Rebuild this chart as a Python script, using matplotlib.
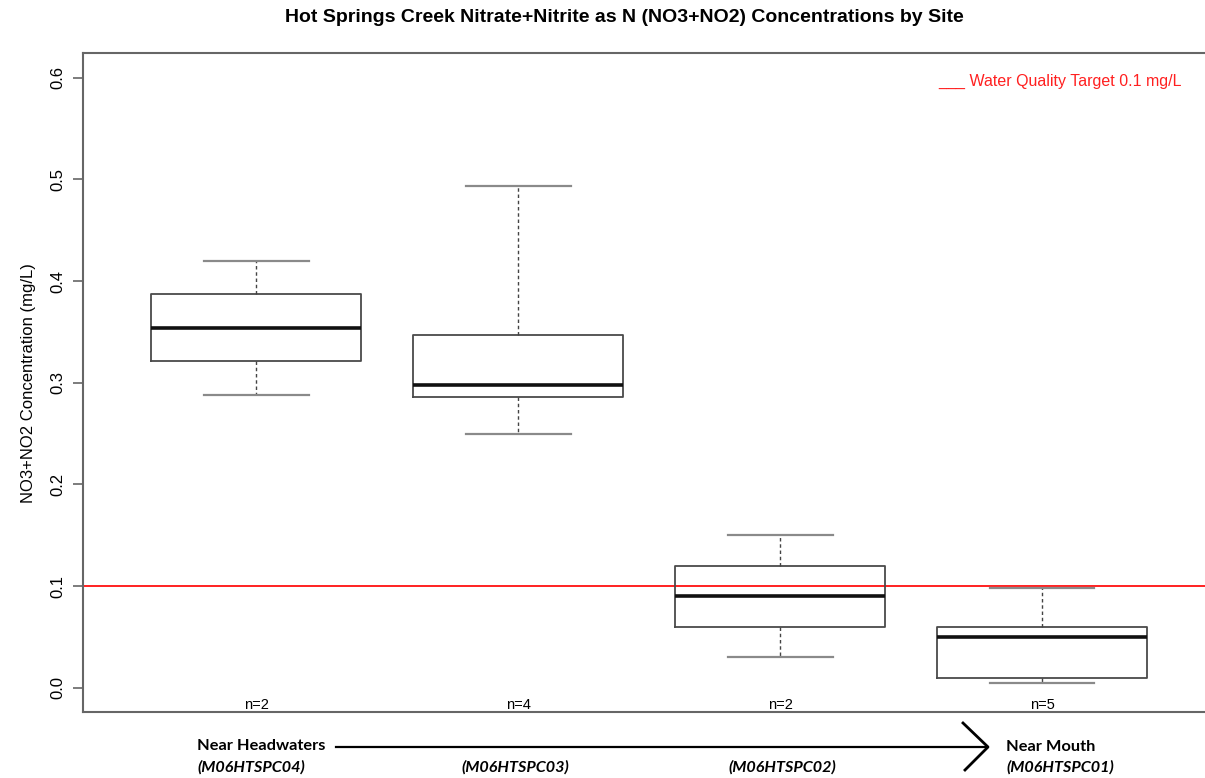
import matplotlib
matplotlib.use("Agg")
import matplotlib.pyplot as plt
from matplotlib.lines import Line2D

# data
sites = ["(M06HTSPC04)", "(M06HTSPC03)", "(M06HTSPC02)", "(M06HTSPC01)"]
n_obs = [2, 4, 2, 5]
whis_lo = [0.288, 0.250, 0.030, 0.005]
q1 = [0.321, 0.286, 0.060, 0.010]
med = [0.354, 0.298, 0.090, 0.050]
q3 = [0.387, 0.347, 0.120, 0.060]
whis_hi = [0.420, 0.494, 0.150, 0.098]
target = 0.1
yticks = [0.0, 0.1, 0.2, 0.3, 0.4, 0.5, 0.6]

W, H = 1205, 778
fig = plt.figure(figsize=(W / 100, H / 100), dpi=100)
plt.rcParams['font.family'] = ['Liberation Sans', 'DejaVu Sans']

def fx(px):
    return px / W

def fy(py):
    return 1 - py / H

ax = fig.add_axes([fx(83.3), fy(712.3), fx(1215) - fx(83.3), fy(53.3) - fy(712.3)])

stats = []
for i in range(len(sites)):
    stats.append(dict(whislo=whis_lo[i], q1=q1[i], med=med[i], q3=q3[i],
                      whishi=whis_hi[i], fliers=[]))
pos = list(range(1, len(sites) + 1))
ax.bxp(stats, positions=pos, widths=0.8, capwidths=0.4, showfliers=False,
       boxprops=dict(color="#4a4a4a", linewidth=1.3),
       medianprops=dict(color="#111111", linewidth=2.6),
       whiskerprops=dict(color="#444444", linewidth=1.0, linestyle=(0, (2.5, 2))),
       capprops=dict(color="#8a8a8a", linewidth=1.6))

ax.axhline(target, color="#ff2020", linewidth=1.4, zorder=0)

ax.set_xlim(0.34, 4.66)
ax.set_ylim(-0.024, 0.624)
ax.set_xticks([])
ax.set_yticks(yticks)
ax.set_yticklabels(["%.1f" % t for t in yticks], rotation=90, va="center", fontsize=12)
ax.tick_params(axis="y", length=7, width=1.2, color="#666666", pad=6)
for s in ["left", "bottom", "top", "right"]:
    ax.spines[s].set_color("#666666")
    ax.spines[s].set_linewidth(1.5)

ax.set_ylabel("NO3+NO2 Concentration (mg/L)", fontsize=12, labelpad=10)

for p, n in zip(pos, n_obs):
    ax.text(p, 0, "n=%d" % n, transform=ax.get_xaxis_transform(),
            ha="center", va="bottom", fontsize=10.5,
            family=["Liberation Sans Narrow", "Liberation Sans"])

fig.text(fx(624), fy(18), "Hot Springs Creek Nitrate+Nitrite as N (NO3+NO2) Concentrations by Site",
         ha="center", va="center", fontsize=14, fontweight="bold")

fig.text(fx(938), fy(81), "___ Water Quality Target 0.1 mg/L", color="#ff2020",
         ha="left", va="center", fontsize=11.5)

# site direction arrow below the axis
bottom_font = ["Lato", "DejaVu Sans"]
fig.add_artist(Line2D([fx(336), fx(987)], [fy(747), fy(747)], color="black", linewidth=1.6))
fig.add_artist(Line2D([fx(963), fx(988), fx(965)], [fy(723), fy(747), fy(770)],
                      color="black", linewidth=2.0))
fig.text(fx(197), fy(746), "Near Headwaters", ha="left", va="center",
         fontsize=11.8, fontweight="bold", family=bottom_font)
fig.text(fx(1006), fy(747), "Near Mouth", ha="left", va="center",
         fontsize=11.8, fontweight="bold", family=bottom_font)

label_x = [(197, "left"), (515, "center"), (782, "center"), (1006, "left")]
for (x, ha), s in zip(label_x, sites):
    fig.text(fx(x), fy(767), s, ha=ha, va="center", fontsize=11.6,
             fontweight="bold", style="italic", family=bottom_font)

fig.savefig("out.png", dpi=100)
